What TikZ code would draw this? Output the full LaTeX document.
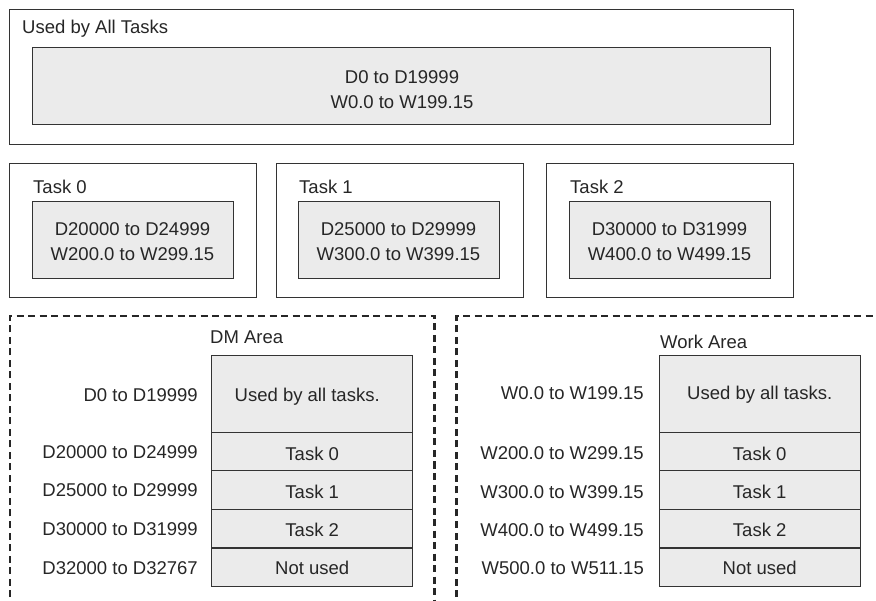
\documentclass[tikz,border=0pt]{standalone}
\usepackage{fontspec}
\setmainfont{Liberation Sans}
\begin{document}
\begin{tikzpicture}[x=1pt,y=-1pt,
  txt/.style={font=\fontsize{18.5}{25}\selectfont, text=black!85, inner sep=0pt},
  frame/.style={draw=black!80, line width=1.4pt, fill=white},
  cell/.style={draw=black!80, line width=1.4pt, fill=black!8},
  dbox/.style={draw=black!85, line width=2.6pt, dash pattern=on 7pt off 4.5pt}]
\useasboundingbox (0,0) rectangle (876,601);
\clip (0,0) rectangle (876,601);
% top
\node[frame, minimum width=784pt, minimum height=135pt, anchor=north west, inner sep=0pt] (all) at (9,9) {};
\node[txt, anchor=west] (allt) at (22,29) {Used by All Tasks};
\node[cell, minimum width=738pt, minimum height=77pt, anchor=north west, inner sep=0pt] (allc) at (32,47) {};
\node[txt, align=center] (allx) at (402,89.5) {D0 to D19999\\W0.0 to W199.15};
% tasks
\foreach \n/\ox/\ix/\a/\b in {0/9/32/D20000 to D24999/W200.0 to W299.15,
                              1/276/298/D25000 to D29999/W300.0 to W399.15,
                              2/546/569/D30000 to D31999/W400.0 to W499.15}{
  \node[frame, minimum width=247pt, minimum height=134pt, anchor=north west, inner sep=0pt] (t\n) at (\ox,163) {};
  \node[txt, anchor=west] (tl\n) at (\ix+1,187) {Task \n};
  \node[cell, minimum width=201pt, minimum height=77pt, anchor=north west, inner sep=0pt] (tc\n) at (\ix,201) {};
  \node[txt, align=center] (tx\n) at (\ix+100.5,241.5) {\a\\\b};
}
% dashed areas
\draw[dbox] (10,620) -- (10,316) -- (434.5,316) -- (434.5,620);
\draw[dbox] (456.5,620) -- (456.5,316) -- (890,316);
% DM area
\node[txt, anchor=west] (dmt) at (210,337) {DM Area};
\node[txt, anchor=west] (wkt) at (660,342) {Work Area};
\foreach \p/\x in {d/211, w/658.5}{
  \node[cell, minimum width=201pt, minimum height=76.7pt, anchor=north west, inner sep=0pt] (\p0) at (\x,355) {};
  \node[cell, minimum width=201pt, minimum height=38.3pt, anchor=north west, inner sep=0pt] (\p1) at (\x,431.7) {};
  \node[cell, minimum width=201pt, minimum height=39pt, anchor=north west, inner sep=0pt] (\p2) at (\x,470) {};
  \node[cell, minimum width=201pt, minimum height=38.3pt, anchor=north west, inner sep=0pt] (\p3) at (\x,509) {};
  \node[cell, minimum width=201pt, minimum height=38.4pt, anchor=north west, inner sep=0pt] (\p4) at (\x,547.3) {};
}
\node[txt] (d0t) at ([xshift=-5pt,yshift=-2.5pt]d0.center) {Used by all tasks.};
\node[txt] (w0t) at ([yshift=-1pt]w0.center) {Used by all tasks.};
\foreach \p in {d,w}{
  \node[txt] (\p1t) at ([yshift=-2pt]\p1.center) {Task 0};
  \node[txt] (\p2t) at ([yshift=-2pt]\p2.center) {Task 1};
  \node[txt] (\p3t) at ([yshift=-1pt]\p3.center) {Task 2};
  \node[txt] (\p4t) at ([yshift=-1pt]\p4.center) {Not used};
}
\node[txt, anchor=east] (dl0) at (198,395.5) {D0 to D19999};
\node[txt, anchor=east] (dl1) at (198,451.7) {D20000 to D24999};
\node[txt, anchor=east] (dl2) at (198,490) {D25000 to D29999};
\node[txt, anchor=east] (dl3) at (198,529) {D30000 to D31999};
\node[txt, anchor=east] (dl4) at (198,567.7) {D32000 to D32767};
\node[txt, anchor=east] (wl0) at (644,393.3) {W0.0 to W199.15};
\node[txt, anchor=east] (wl1) at (644,452.7) {W200.0 to W299.15};
\node[txt, anchor=east] (wl2) at (644,491.7) {W300.0 to W399.15};
\node[txt, anchor=east] (wl3) at (644,530) {W400.0 to W499.15};
\node[txt, anchor=east] (wl4) at (644,568.3) {W500.0 to W511.15};
\end{tikzpicture}
\end{document}
